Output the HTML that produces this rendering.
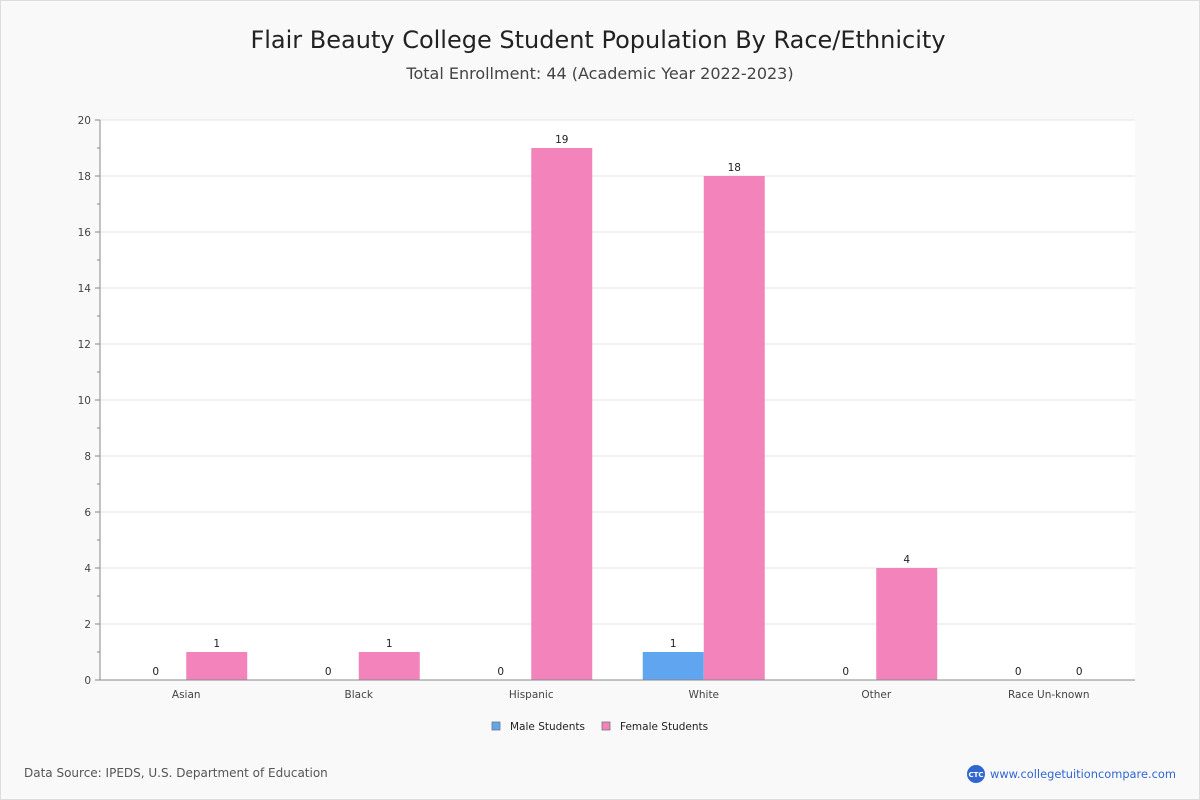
<!DOCTYPE html>
<html><head><meta charset="utf-8"><style>
html,body{margin:0;padding:0;background:#f9f9f9;}
body{width:1200px;height:800px;overflow:hidden;font-family:"DejaVu Sans","Liberation Sans",sans-serif;}
#frame{position:absolute;left:0;top:0;width:1198px;height:798px;border:1px solid #ddd;}
</style></head><body>
<div id="frame"></div>
<svg id="chart" width="1200" height="800" style="position:absolute;left:0;top:0">
<text x="598" y="48" text-anchor="middle" font-size="24" fill="#222">Flair Beauty College Student Population By Race/Ethnicity</text>
<text x="600" y="79" text-anchor="middle" font-size="16" fill="#444">Total Enrollment: 44 (Academic Year 2022-2023)</text>
<rect x="100" y="120" width="1035" height="560" fill="#fff"/>
<g id="grid"></g><g id="bars"></g><g id="axes"></g>
<g>
<rect x="492" y="722" width="8" height="8" fill="#60a5f0" stroke="#777" stroke-width="0.8"/>
<text x="510" y="730" font-size="10.5" fill="#222">Male Students</text>
<rect x="602" y="722" width="8" height="8" fill="#f383bb" stroke="#777" stroke-width="0.8"/>
<text x="620" y="730" font-size="10.5" fill="#222">Female Students</text>
</g>
<text x="24" y="777" font-size="12" fill="#555">Data Source: IPEDS, U.S. Department of Education</text>
<circle cx="976" cy="774" r="9" fill="#2f66d0"/>
<text x="976" y="777" text-anchor="middle" font-size="7" font-weight="bold" fill="#fff">CTC</text>
<text x="990" y="778" font-size="11.4" fill="#2f66d0">www.collegetuitioncompare.com</text>
</svg>
<script>
const categories=["Asian","Black","Hispanic","White","Other","Race Un-known"];
const maleValues=[0,0,0,1,0,0];
const femaleValues=[1,1,19,18,4,0];
const yTicks=[0,2,4,6,8,10,12,14,16,18,20];
const yMax=20;
const NS="http://www.w3.org/2000/svg";
const L=100,R=1135,T=120,B=680;
const y=v=>B-(v/yMax)*(B-T);
const bandW=(R-L)/categories.length;
const xc=i=>L+bandW*(i+0.5);
const bw=61;
function mk(tag,attrs,parent){const e=document.createElementNS(NS,tag);for(const k in attrs)e.setAttribute(k,attrs[k]);document.getElementById(parent).appendChild(e);return e;}
yTicks.forEach(t=>{
  if(t>0){const g=mk("line",{x1:L,x2:R,y1:y(t),y2:y(t),stroke:"#e3e3e3"},"grid");
  
  }
  const tk=mk("line",{x1:L-5,x2:L,y1:y(t),y2:y(t),stroke:"#888"},"axes");
  
  
  const lb=mk("text",{x:L-9,y:y(t)+4,"text-anchor":"end","font-size":"10.5",fill:"#444"},"axes");
  lb.textContent=t;
  
  
  if(t<yMax){const m=mk("line",{x1:L-3,x2:L,y1:y(t+1),y2:y(t+1),stroke:"#888"},"axes");
  
  }
});
categories.forEach((c,i)=>{
  const cx=xc(i);
  [[maleValues[i],cx-bw,"#60a5f0","male"],[femaleValues[i],cx,"#f383bb","female"]].forEach(([v,x0,col,s])=>{
    if(v>0){const r=mk("rect",{x:x0,y:y(v),width:bw,height:B-y(v),fill:col},"bars");
    
    }
    const t=mk("text",{x:x0+bw/2,y:y(v)-5,"text-anchor":"middle","font-size":"10.5",fill:"#222"},"bars");
    t.textContent=v;
    
    
  });
  const lb=mk("text",{x:cx,y:B+18,"text-anchor":"middle","font-size":"10.5",fill:"#444"},"axes");
  lb.textContent=c;
  
  
});
const ya=mk("line",{x1:L,x2:L,y1:T,y2:B,stroke:"#888"},"axes");


const xa=mk("line",{x1:L,x2:R,y1:B,y2:B,stroke:"#888"},"axes");


</script>
</body></html>
